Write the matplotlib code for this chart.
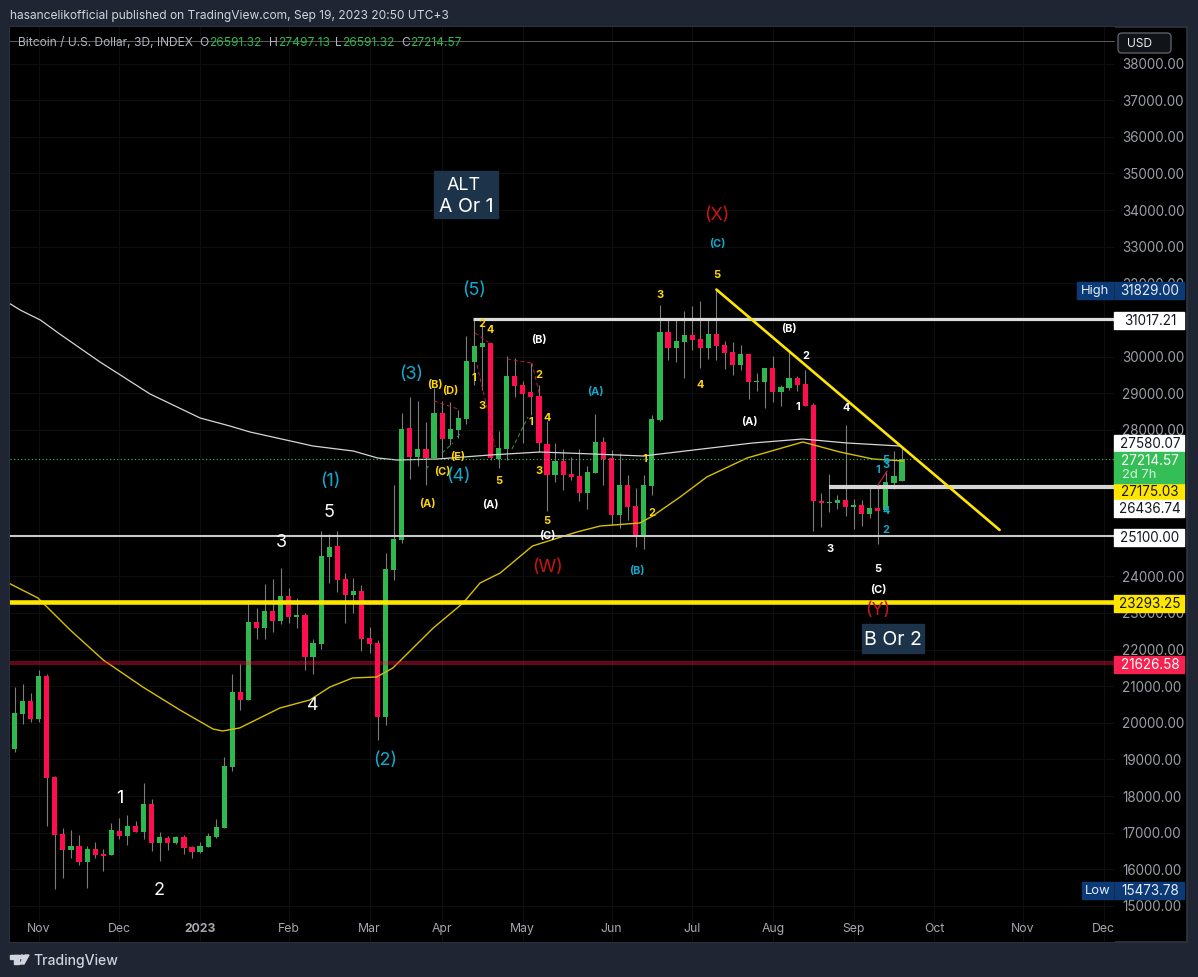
import matplotlib
matplotlib.use('Agg')
import matplotlib.pyplot as plt
from matplotlib.patches import Rectangle, Polygon, Circle, FancyBboxPatch

plt.rcParams['font.family'] = ['Inter', 'DejaVu Sans']

W, H = 1198, 977
PANEL = '#1f2533'
GREEN = '#2eb84e'
RED = '#ff0d4f'
WICK = '#7c7c7c'
GOLD = '#ffe600'
CYAN = '#12a8cc'
LABEL_YEL = '#ffd500'
DEEP_RED = '#cc1414'

# 3D candles, Oct 2022 -> Sep 2023
opens = [19286, 20242, 20597, 20105, 21279, 18522, 16966, 16529, 16638, 16201, 16556, 16420, 16392, 17048, 16911, 17184,
         17020, 17785, 16720, 16857, 16720, 16884, 16611, 16474, 16611, 16884, 17130, 18795, 20842, 20624, 22753, 22590,
         23054, 22781, 23463, 22890, 22944, 21798, 22153, 24528, 24828, 23927, 23490, 23600, 22317, 22180, 20160, 24173,
         24992, 28050, 27258, 27476, 27231, 28459, 27749, 27995, 28295, 29851, 30261, 30370, 27203, 27476, 29469, 29223,
         29032, 28923, 27613, 26766, 27149, 26794, 26739, 26275, 26821, 27667, 27231, 25674, 26493, 25920, 25074, 26466,
         28268, 30670, 30234, 30397, 30588, 30479, 30234, 30616, 30315, 30124, 29769, 30070, 29305, 29305, 29688, 29032,
         29142, 29415, 29251, 28677, 26057, 26002, 26002, 26084, 25893, 25947, 25702, 25866, 25811, 26548, 26591.32]
highs = [20987, 21061, 20815, 21443, 21334, 18549, 17130, 17075, 16938, 16638, 16747, 16556, 17266, 17403, 17484, 17321,
         18358, 17921, 17020, 16911, 16911, 16938, 16638, 16747, 16993, 17375, 19068, 21334, 21607, 23354, 23136, 23791,
         23927, 24228, 23682, 23409, 22999, 22289, 25238, 25156, 25238, 24091, 23955, 23763, 22617, 22262, 24637, 26493,
         28459, 28896, 28787, 28213, 29142, 28787, 28759, 28541, 30561, 31025, 30916, 30370, 27968, 30015, 29961, 29333,
         29824, 29223, 28241, 27640, 27476, 27258, 27476, 27012, 28432, 27804, 27449, 27367, 26766, 26412, 26766, 28404,
         31407, 30998, 30998, 31244, 31380, 31517, 31025, 31829, 30425, 30397, 30315, 30070, 29551, 29688, 30015, 29223,
         30152, 29469, 29633, 28732, 26275, 26794, 26220, 28131, 26111, 26084, 26412, 26493, 26876, 27422, 27497.13]
lows = [19213, 19969, 20032, 20032, 17192, 15474, 15773, 16319, 16128, 15480, 16311, 15964, 16392, 16829, 16665, 17020,
        16829, 16502, 16229, 16529, 16693, 16420, 16311, 16447, 16611, 16857, 17130, 18686, 20351, 20624, 22289, 22289,
        22480, 22699, 22726, 22590, 21443, 21334, 22016, 23818, 23572, 22726, 22999, 21962, 21907, 19532, 19941, 23900,
        24910, 26657, 27012, 26493, 27231, 27231, 27585, 27777, 28159, 29223, 29087, 27176, 26958, 27176, 28896, 27640,
        28404, 27394, 25784, 26575, 26357, 26630, 26057, 25838, 26821, 26493, 25401, 25320, 25538, 24801, 24746, 26220,
        28241, 29906, 29851, 29415, 30179, 29688, 29933, 29906, 29660, 29496, 29633, 28841, 29060, 28596, 28759, 28650,
        29087, 29060, 28650, 25238, 25347, 25756, 25838, 25647, 25292, 25374, 25593, 24883, 25784, 26384, 26591.32]
closes = [20269, 20597, 20105, 21279, 18503, 16938, 16529, 16638, 16201, 16556, 16392, 16365, 17075, 16911, 17184, 17020,
          17785, 16720, 16884, 16720, 16884, 16584, 16474, 16638, 16911, 17157, 18822, 20842, 20624, 22753, 22590, 23054,
          22781, 23463, 22890, 22944, 21798, 22180, 24555, 24801, 23900, 23490, 23600, 22289, 22153, 20160, 24200, 25019,
          28022, 27258, 27476, 27231, 28459, 27749, 28022, 28323, 29879, 30288, 30370, 27231, 27504, 29469, 29196, 28978,
          28896, 27640, 26766, 27149, 26766, 26712, 26275, 26848, 27667, 27203, 25674, 26493, 25893, 25074, 26493, 28295,
          30670, 30234, 30425, 30588, 30452, 30234, 30616, 30288, 30097, 29769, 30070, 29305, 29333, 29688, 29032, 29169,
          29415, 29223, 28650, 26057, 26002, 26029, 26084, 25893, 25947, 25702, 25866, 25784, 26575, 26739, 27214.57]

# moving averages, read at knots along each line (candle index, price)
ma_white_idx = [-0.5, 0.7, 3.2, 5.6, 10.6, 16.8, 23, 26.7, 29.2, 37, 42, 45, 47.4, 52.4, 58.9, 65.1, 71.7, 77.9, 91.5,
                97.7, 103.2, 109.7]
ma_white = [31435, 31271, 30998, 30616, 29851, 28978, 28323, 28104, 27940, 27558, 27421, 27231, 27176, 27203, 27312,
            27394, 27340, 27285, 27640, 27749, 27640, 27558]
ma_yellow_idx = [-0.5, 2.9, 6.9, 11, 15.9, 20.5, 24.6, 25.8, 27.9, 32.9, 36.6, 39.1, 41.9, 44.9, 46.9, 51.9, 55.6, 57.7,
                 60.2, 64.2, 69.7, 72.6, 77.5, 79.1, 82.5, 85.8, 90.8, 97.7, 102.3, 106.4, 110.2]
ma_yellow = [23791, 23409, 22535, 21716, 20979, 20351, 19832, 19778, 19860, 20406, 20624, 20979, 21225, 21252, 21498,
             22590, 23272, 23818, 24091, 24828, 25210, 25374, 25456, 25647, 26166, 26712, 27231, 27667, 27394, 27203,
             27149]

trend_idx = [87, 122.1]
trend_price = [31829, 25265]

last_close = 27214.57
level_high = 31017.21
level_mid = 26436.74
level_low = 25100.00
level_gold = 23293.25
level_dark = 21626.58
top_rule = 38615

month_idx = [3, 13, 23, 34, 44, 53, 63, 74, 84, 94, 104, 114, 125, 135]
month_labels = ['Nov', 'Dec', '2023', 'Feb', 'Mar', 'Apr', 'May', 'Jun', 'Jul', 'Aug', 'Sep', 'Oct', 'Nov', 'Dec']
# 25000, 26000, 27000 and 31000 sit fully behind price tags
price_ticks = [15000, 16000, 17000, 18000, 19000, 20000, 21000, 22000, 23000, 24000, 28000, 29000, 30000, 32000,
               33000, 34000, 35000, 36000, 37000, 38000]

fig = plt.figure(figsize=(W / 100, H / 100), dpi=100, facecolor=PANEL)
fig.patches.append(Rectangle((10 / W, 1 - 942 / H), 1177 / W, 915 / H, transform=fig.transFigure,
                             facecolor='black', edgecolor='#2e3542', lw=1.2, zorder=-1))

ax = fig.add_axes([10 / W, 1 - 942 / H, 1105 / W, 915 / H], facecolor='black')
ax.set_xlim(-0.558, 136.4)
ax.set_ylim(14017, 38997)
for s in ax.spines.values():
    s.set_visible(False)
ax.set_axisbelow(True)
ax.grid(True, color='#0e0e0e', lw=0.8)

ax.set_xticks(month_idx, month_labels)
ax.get_xticklabels()[2].set_fontweight('bold')
ax.tick_params(axis='x', length=0, pad=-13.5, labelsize=8.8, labelcolor='#a5a8b0')
ax.yaxis.tick_right()
ax.set_yticks(price_ticks, [f'{p:.2f}' for p in price_ticks])
ax.tick_params(axis='y', length=0, pad=5, labelsize=9.7, labelcolor='#9c9fa8')
for lab in ax.get_yticklabels():
    lab.set_va('center_baseline')

# candles
idx = list(range(len(opens)))
colors = [GREEN if c >= o else RED for o, c in zip(opens, closes)]
ax.vlines(idx, lows, highs, color=WICK, lw=0.8, zorder=2)
ax.bar(idx, [max(abs(c - o), 40) for o, c in zip(opens, closes)], bottom=[min(o, c) for o, c in zip(opens, closes)],
       width=0.64, color=colors, zorder=3)

# MAs + levels
ax.plot(ma_white_idx, ma_white, color='#d6d6d6', lw=0.9, zorder=4)
ax.plot(ma_yellow_idx, ma_yellow, color='#d8c000', lw=1.0, zorder=4)
ax.axhline(last_close, color='#34c759', lw=0.8, ls=(0, (1, 2.2)), zorder=4)
ax.axhline(top_rule, color='#5c5c5c', lw=0.7, zorder=1)
ax.hlines(level_high, 56.8, 136.4, color='#dcdcdc', lw=2.3, zorder=5)
ax.hlines(level_mid, 101, 136.4, color='#d4d4d4', lw=3.0, zorder=5)
ax.axhline(level_low, color='#c8c8c8', lw=1.5, zorder=5)
ax.axhline(level_gold, color=GOLD, lw=3.3, zorder=5)
ax.axhline(level_dark, color='#ff1744', alpha=0.38, lw=3.0, zorder=5)
ax.plot(trend_idx, trend_price, color=GOLD, lw=1.9, zorder=6, solid_capstyle='round')

# overlay in screen pixels for labels, tags and the page furniture
ov = fig.add_axes([0, 0, 1, 1], facecolor='none')
ov.set_xlim(0, W)
ov.set_ylim(H, 0)
ov.axis('off')


def txt(x, y, s, color='white', size=12, weight='normal', ha='center', **kw):
    # nudge down a little, Inter sits high when centred
    return ov.text(x, y + size * 0.09, s, color=color, fontsize=size * 0.72, fontweight=weight, ha=ha, va='center', **kw)


# elliott sub-wave dashes
red_dash = [((434, 401), (458, 409)), ((475, 333), (488, 342)), ((477, 365), (488, 412)), ((488, 412), (495, 447)),
            ((507, 359), (532, 363)), ((532, 363), (540, 397))]
green_dash = [((426, 469), (430, 464)), ((442, 453), (453, 443)), ((457, 437), (460, 434)), ((512, 449), (528, 417))]
for (a, b) in red_dash:
    ov.plot([a[0], b[0]], [a[1], b[1]], color='#c2183f', lw=0.7, ls=(0, (4, 3)))
for (a, b) in green_dash:
    ov.plot([a[0], b[0]], [a[1], b[1]], color='#2e9e4a', lw=0.7, ls=(0, (4, 3)))
ov.plot([878, 887], [485, 471], color='#c2183f', lw=0.9)

big_white = [(120, 797, '1'), (159, 889, '2'), (281, 541, '3'), (313, 704, '4'), (329, 511, '5')]
big_cyan = [(330, 480, '(1)'), (385, 759, '(2)'), (411, 373, '(3)'), (458, 475, '(4)'), (474, 289, '(5)')]
big_red = [(547, 566, '(W)'), (717, 214, '(X)'), (878, 609, '(Y)')]
small_yellow = [(427, 503, '(A)'), (435, 384, '(B)'), (442, 471, '(C)'), (450, 390, '(D)'), (458, 456, '(E)'),
                (482, 323, '2'), (490, 329, '4'), (474, 377, '1'), (482, 405, '3'), (499, 480, '5'), (539, 374, '2'),
                (531, 421, '1'), (547, 417, '4'), (539, 470, '3'), (547, 520, '5'), (645, 458, '1'), (652, 512, '2'),
                (717, 274, '5'), (660, 294, '3'), (700, 384, '4')]
small_white = [(490, 504, '(A)'), (539, 339, '(B)'), (547, 535, '(C)'), (789, 328, '(B)'), (806, 355, '2'),
               (798, 406, '1'), (749, 421, '(A)'), (846, 407, '4'), (830, 548, '3'), (878, 568, '5'), (878, 589, '(C)')]
small_cyan = [(595, 391, '(A)'), (637, 570, '(B)'), (717, 243, '(C)'), (878, 469, '1'), (886, 459, '5'),
              (886, 464, '3'), (886, 510, '4'), (886, 529, '2')]

for x, y, s in big_white:
    txt(x, y, s, size=18)
for x, y, s in big_cyan:
    txt(x, y, s, color=CYAN, size=18)
for x, y, s in big_red:
    txt(x, y, s, color=DEEP_RED, size=18)
for x, y, s in small_yellow:
    txt(x, y, s, color=LABEL_YEL, size=11, weight='bold')
for x, y, s in small_white:
    txt(x, y, s, size=11, weight='bold')
for x, y, s in small_cyan:
    txt(x, y, s, color=CYAN, size=11, weight='bold')

# boxed notes
ov.add_patch(Rectangle((434, 171), 64, 47, color='#1c3349', zorder=6))
txt(464, 184, 'ALT', size=18, zorder=7)
txt(466, 205, 'A Or 1', size=19.5, zorder=7)
ov.add_patch(Rectangle((862, 624), 62, 29, color='#1c3349', zorder=6))
txt(893, 638, 'B Or 2', size=19.5, zorder=7)

# price tags
tags = [(320, 17, '31017.21', 'white', '#131722'), (443, 17, '27580.07', 'white', '#131722'),
        (491, 17, '27175.03', GOLD, '#131722'), (508, 17, '26436.74', 'white', '#131722'),
        (537, 17, '25100.00', 'white', '#131722'), (603, 17, '23293.25', GOLD, '#131722'),
        (664, 17, '21626.58', '#f7224f', 'white')]
for y, h, s, bg, fg in tags:
    ov.add_patch(Rectangle((1114, y - h / 2), 70, h, color=bg, zorder=8))
    txt(1150, y, s, color=fg, size=13.5, zorder=9)
ov.add_patch(Rectangle((1114, 452), 70, 31, color='#34bf56', zorder=8))
txt(1150, 460, '27214.57', size=13.5, zorder=9)
txt(1122, 474, '2d 7h', color='#d5f3dc', size=13, ha='left', zorder=9)

for y, label, left, val in [(290, 'High', 1077, '31829.00'), (890, 'Low', 1082, '15473.78')]:
    ov.add_patch(Rectangle((left, y - 8.5), 1184 - left, 17, color='#0c3a76', zorder=8))
    ov.plot([1113.5, 1113.5], [y - 8.5, y + 8.5], color='#1c2a44', lw=0.7, zorder=9)
    txt((left + 1113) / 2, y, label, color='#e4ebf5', size=13, zorder=9)
    txt(1150, y, val, color='#e4ebf5', size=13.5, zorder=9)

ov.add_patch(FancyBboxPatch((1120, 35), 49, 16, boxstyle='round,pad=2,rounding_size=4', facecolor='#101318',
                            edgecolor='#5a5e68', lw=1, zorder=8))
txt(1140, 43, 'USD', color='#e8eaf0', size=12, zorder=9)

# header
txt(10, 15, 'hasancelikofficial published on TradingView.com, Sep 19, 2023 20:50 UTC+3', color='#d1d4dc', size=12, ha='left')
txt(18, 42, 'Bitcoin / U.S. Dollar, 3D, INDEX', color='#b2b5be', size=12, ha='left')
for x, s, c in [(199, 'O', '#b2b5be'), (209, '26591.32', GREEN), (269, 'H', '#b2b5be'), (278, '27497.13', GREEN),
                (335, 'L', '#b2b5be'), (342, '26591.32', GREEN), (401, 'C', '#b2b5be'), (410, '27214.57', GREEN)]:
    txt(x, 42, s, color=c, size=12, ha='left')

# footer logo
ov.add_patch(Rectangle((10, 955), 9, 3.5, color='#d1d4dc'))
ov.add_patch(Rectangle((14, 955), 5, 9, color='#d1d4dc'))
ov.add_patch(Circle((22, 957), 2, color='#d1d4dc'))
ov.add_patch(Polygon([(25, 955), (29, 955), (24, 964), (20, 964)], color='#d1d4dc'))
txt(33, 960, 'TradingView', color='#d1d4dc', size=14, weight='medium', ha='left')

fig.savefig('out.png', dpi=100, facecolor=PANEL)
